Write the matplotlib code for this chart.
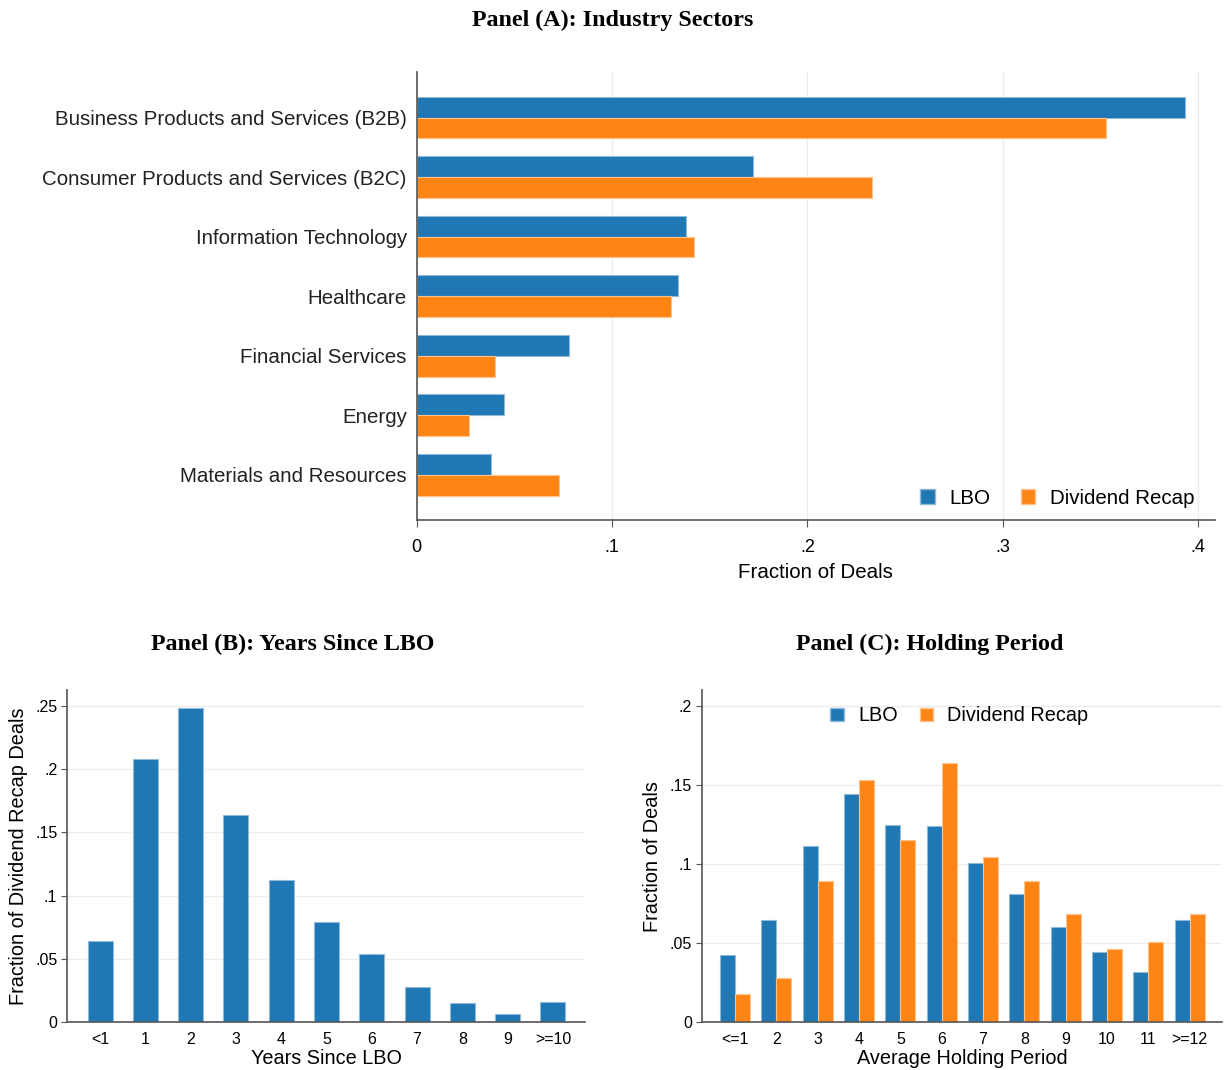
import numpy as np
import matplotlib
matplotlib.use('Agg')
import matplotlib.pyplot as plt
from matplotlib.patches import Patch

plt.rcParams['font.family'] = ['Liberation Sans', 'DejaVu Sans']

blue = '#1f77b4'
orange = '#fd8516'
blue_edge = '#8fbbd9'
orange_edge = '#fec28a'
grid_col = '#ececec'
spine_col = '#555555'

# Panel A data
sectors = ['Business Products and Services (B2B)', 'Consumer Products and Services (B2C)',
           'Information Technology', 'Healthcare', 'Financial Services', 'Energy',
           'Materials and Resources']
sector_lbo = [0.393, 0.172, 0.138, 0.134, 0.078, 0.045, 0.038]
sector_dr = [0.353, 0.233, 0.142, 0.130, 0.040, 0.027, 0.073]

# Panel B data
years_labels = ['<1', '1', '2', '3', '4', '5', '6', '7', '8', '9', '>=10']
years_frac = [0.064, 0.208, 0.248, 0.164, 0.112, 0.079, 0.054, 0.028, 0.015, 0.006, 0.0155]

# Panel C data
hold_labels = ['<=1', '2', '3', '4', '5', '6', '7', '8', '9', '10', '11', '>=12']
hold_lbo = [0.0423, 0.0646, 0.1116, 0.1446, 0.125, 0.124, 0.1006, 0.0808, 0.0604, 0.0444, 0.0314, 0.0644]
hold_dr = [0.0175, 0.0278, 0.0893, 0.1533, 0.115, 0.1638, 0.1046, 0.0893, 0.0686, 0.0459, 0.0507, 0.0686]


def style_axes(ax):
    for s in ['top', 'right']:
        ax.spines[s].set_visible(False)
    for s in ['left', 'bottom']:
        ax.spines[s].set_color(spine_col)
        ax.spines[s].set_linewidth(1.2)
    ax.set_axisbelow(True)


def fmt(v):
    s = ('%g' % v)
    if s.startswith('0.'):
        s = s[1:]
    return s


fig = plt.figure(figsize=(12.25, 10.7), dpi=100)
handles = [Patch(facecolor=blue, edgecolor=blue_edge), Patch(facecolor=orange, edgecolor=orange_edge)]

# ---------- Panel A ----------
axA = fig.add_axes([0.340, 0.514, 0.652, 0.419])
style_axes(axA)
pos = np.arange(len(sectors))
h = 0.35
axA.barh(pos - h / 2, sector_lbo, height=h, color=blue, edgecolor=blue_edge, linewidth=0.8, label='LBO')
axA.barh(pos + h / 2, sector_dr, height=h, color=orange, edgecolor=orange_edge, linewidth=0.8, label='Dividend Recap')
axA.set_ylim(6.76, -0.77)
axA.set_xlim(0, 0.4087)
axA.set_yticks(pos)
axA.set_yticklabels(sectors, fontsize=14.8, color='#222222')
axA.tick_params(axis='y', length=0, pad=7)
xt = [0, 0.1, 0.2, 0.3, 0.4]
axA.set_xticks(xt)
axA.set_xticklabels([fmt(v) for v in xt], fontsize=13)
axA.tick_params(axis='x', length=5, color=spine_col, pad=9)
axA.grid(axis='x', color=grid_col, linewidth=1)
axA.set_xlabel('Fraction of Deals', fontsize=14.8, labelpad=5)
axA.legend(handles, ['LBO', 'Dividend Recap'], loc='lower right', ncol=2, frameon=False,
           fontsize=14.8, handlelength=0.7, handleheight=0.7, handletextpad=0.7,
           columnspacing=1.5, bbox_to_anchor=(0.997, -0.014))
fig.text(0.5, 0.981, 'Panel (A): Industry Sectors', ha='center', va='center',
         fontsize=17.3, fontweight='bold', family='Liberation Serif')

# ---------- Panel B ----------
axB = fig.add_axes([0.0547, 0.0449, 0.4229, 0.310])
style_axes(axB)
xb = np.arange(len(years_labels))
axB.bar(xb, years_frac, width=0.55, color=blue, edgecolor=blue_edge, linewidth=0.8)
axB.set_xlim(-0.73, 10.71)
axB.set_ylim(0, 0.2624)
yt = [0, 0.05, 0.1, 0.15, 0.2, 0.25]
axB.set_yticks(yt)
axB.set_yticklabels([fmt(v) for v in yt], fontsize=11.5)
axB.set_xticks(xb)
axB.set_xticklabels(years_labels, fontsize=11.5)
axB.tick_params(axis='x', length=0, pad=7)
axB.tick_params(axis='y', length=4, color=spine_col, pad=3)
axB.grid(axis='y', color=grid_col, linewidth=1)
axB.set_xlabel('Years Since LBO', fontsize=14.3, labelpad=2)
axB.set_ylabel('Fraction of Dividend Recap Deals', fontsize=14.3, labelpad=5)
fig.text(0.239, 0.398, 'Panel (B): Years Since LBO', ha='center', va='center',
         fontsize=17.3, fontweight='bold', family='Liberation Serif')

# ---------- Panel C ----------
axC = fig.add_axes([0.573, 0.0449, 0.4245, 0.310])
style_axes(axC)
xc = np.arange(len(hold_labels))
w = 0.36
axC.bar(xc - w / 2, hold_lbo, width=w, color=blue, edgecolor=blue_edge, linewidth=0.8, label='LBO')
axC.bar(xc + w / 2, hold_dr, width=w, color=orange, edgecolor=orange_edge, linewidth=0.8, label='Dividend Recap')
axC.set_xlim(-0.8, 11.78)
axC.set_ylim(0, 0.21)
yt = [0, 0.05, 0.1, 0.15, 0.2]
axC.set_yticks(yt)
axC.set_yticklabels([fmt(v) for v in yt], fontsize=11.5)
axC.set_xticks(xc)
axC.set_xticklabels(hold_labels, fontsize=11.5)
axC.tick_params(axis='x', length=0, pad=7)
axC.tick_params(axis='y', length=4, color=spine_col, pad=3)
axC.grid(axis='y', color=grid_col, linewidth=1)
axC.set_xlabel('Average Holding Period', fontsize=14.3, labelpad=2)
axC.set_ylabel('Fraction of Deals', fontsize=14.3, labelpad=6)
axC.legend(handles, ['LBO', 'Dividend Recap'], loc='upper center', ncol=2, frameon=False,
           fontsize=14.3, handlelength=0.7, handleheight=0.7, handletextpad=0.7,
           columnspacing=1.1, bbox_to_anchor=(0.495, 1.005))
fig.text(0.759, 0.398, 'Panel (C): Holding Period', ha='center', va='center',
         fontsize=17.3, fontweight='bold', family='Liberation Serif')

fig.savefig('out.png', dpi=100)
